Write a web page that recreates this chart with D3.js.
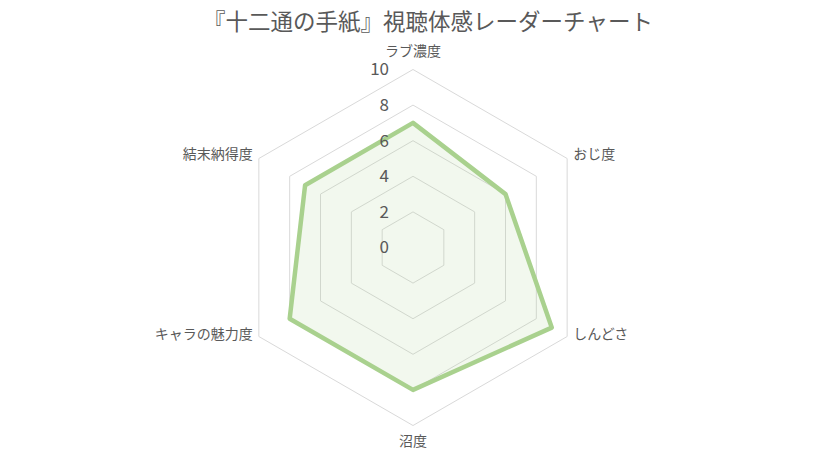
<!DOCTYPE html>
<html>
<head>
<meta charset="utf-8">
<script src="https://cdn.jsdelivr.net/npm/d3@7"></script>
<style>
  body { margin: 0; background: #fff; }
  svg { font-family: "Noto Sans CJK JP", "Noto Sans", sans-serif; }
</style>
</head>
<body>
<div id="chart"></div>
<script>
// data
const categories = ['ラブ濃度', 'おじ度', 'しんどさ', '沼度', 'キャラの魅力度', '結末納得度'];
const values = [7, 6, 9, 8, 8, 7];
const ticks = [0, 2, 4, 6, 8, 10];
const title = '『十二通の手紙』視聴体感レーダーチャート';

const width = 824, height = 455;
const cx = 413, cy = 247.5, radius = 178;

const svg = d3.select('#chart').append('svg')
    .attr('width', width)
    .attr('height', height);

const r = d3.scaleLinear().domain([0, 10]).range([0, radius]);
const angle = d3.scalePoint().domain(categories).range([0, 2 * Math.PI * (categories.length - 1) / categories.length]);

const pt = (cat, v) => {
    let a = angle(cat);
    return [cx + r(v) * Math.sin(a), cy - r(v) * Math.cos(a)];
};

const g = svg.append('g');

// grid rings (0 ring collapses to a point)
ticks.filter(t => t > 0).forEach(t => {
    g.append('path')
        .attr('d', d3.line().curve(d3.curveLinearClosed)(categories.map(c => pt(c, t))))
        .attr('fill', 'none')
        .attr('stroke', '#d9d9d9')
        .attr('stroke-width', 1);
});

// data area
const area = d3.line().curve(d3.curveLinearClosed);
g.append('path')
    .attr('d', area(categories.map((c, i) => pt(c, values[i]))))
    .attr('fill', '#a9d18e')
    .attr('fill-opacity', 0.15)
    .attr('stroke', '#a9d18e')
    .attr('stroke-width', 4.5)
    .attr('stroke-linejoin', 'round');

// tick labels on the top spoke
g.selectAll('.tick-label')
    .data(ticks)
    .enter()
    .append('text')
    .attr('class', 'tick-label')
    .attr('x', cx - 24)
    .attr('y', d => cy - r(d))
    .attr('dy', '0.35em')
    .attr('text-anchor', 'end')
    .attr('fill', '#595959')
    .style('font-size', '17px')
    .text(d => d);

// category labels
g.selectAll('.cat-label')
    .data(categories)
    .enter()
    .append('text')
    .attr('class', 'cat-label')
    .attr('x', d => {
        let [x] = pt(d, 10);
        let s = Math.sin(angle(d));
        return x + (Math.abs(s) < 0.01 ? 0 : (s > 0 ? 6 : -6));
    })
    .attr('y', d => {
        let [, y] = pt(d, 10);
        let c = Math.cos(angle(d));
        if (c > 0.99) return y - 18;
        if (c < -0.99) return y + 16;
        return y - 4 + (c > 0 ? 0 : 2);
    })
    .attr('dy', '0.35em')
    .attr('text-anchor', d => {
        let s = Math.sin(angle(d));
        return Math.abs(s) < 0.01 ? 'middle' : (s > 0 ? 'start' : 'end');
    })
    .attr('fill', '#595959')
    .style('font-size', '14px')
    .text(d => d);

// title
svg.append('text')
    .attr('x', 428)
    .attr('y', 22)
    .attr('dy', '0.35em')
    .attr('text-anchor', 'middle')
    .attr('fill', '#595959')
    .style('font-size', '22.5px')
    .text(title);
</script>
</body>
</html>
